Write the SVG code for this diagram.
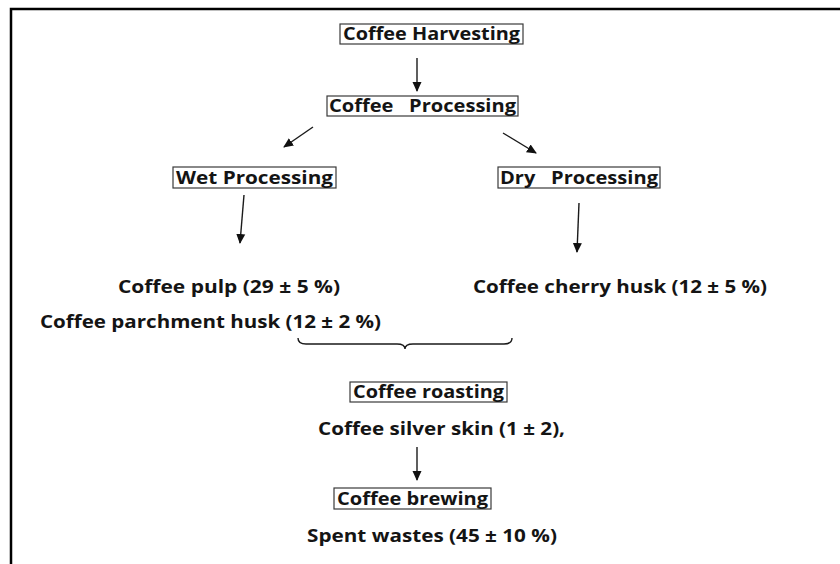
<svg xmlns="http://www.w3.org/2000/svg" width="840" height="564" viewBox="0 0 840 564">
  <style>
    .t { font-family: "Open Sans", "Liberation Sans", sans-serif; font-weight: 700; font-size: 17px; fill: #141414; }
    .box { fill: #ffffff; stroke: #3a3a3a; stroke-width: 1.2; }
    .conn { stroke: #1a1a1a; stroke-width: 1.4; fill: none; }
    .frame { stroke: #000000; stroke-width: 2.5; fill: none; }
  </style>
  <defs>
    <marker id="ah" markerUnits="userSpaceOnUse" markerWidth="10" markerHeight="10" viewBox="0 0 10 10" refX="9" refY="5" orient="auto">
      <path d="M0,0.5 L10,5 L0,9.5 Z" fill="#111111"/>
    </marker>
  </defs>
  <rect width="840" height="564" fill="#ffffff"/>
  <path class="frame" d="M11,564 L11,9 L840,9"/>

  <g id="connectors">
    <line class="conn" x1="417" y1="58" x2="417" y2="91" marker-end="url(#ah)"/>
    <line class="conn" x1="313" y1="127" x2="284" y2="147" marker-end="url(#ah)"/>
    <line class="conn" x1="503" y1="133" x2="536" y2="153" marker-end="url(#ah)"/>
    <line class="conn" x1="244" y1="195" x2="240" y2="243" marker-end="url(#ah)"/>
    <line class="conn" x1="579" y1="203" x2="577" y2="252" marker-end="url(#ah)"/>
    <path class="conn" stroke-width="1.2" d="M298,338 Q298,344 306,344 L397,344 Q405,344 405,349 Q405,344 413,344 L504,344 Q512,344 512,338"/>
    <line class="conn" x1="417" y1="447" x2="417" y2="480" marker-end="url(#ah)"/>
  </g>

  <g id="harvesting">
    <rect class="box" x="340" y="24" width="183" height="20"/>
    <text class="t" x="343" y="40" textLength="177" lengthAdjust="spacingAndGlyphs">Coffee Harvesting</text>
  </g>
  <g id="processing">
    <rect class="box" x="327" y="96" width="191" height="20"/>
    <text class="t" x="329" y="112" textLength="187" lengthAdjust="spacingAndGlyphs" xml:space="preserve">Coffee   Processing</text>
  </g>
  <g id="wet">
    <rect class="box" x="173" y="167" width="163" height="21"/>
    <text class="t" x="176" y="183.5" textLength="157" lengthAdjust="spacingAndGlyphs">Wet Processing</text>
  </g>
  <g id="dry">
    <rect class="box" x="498" y="167" width="162" height="21"/>
    <text class="t" x="500" y="183.5" textLength="158" lengthAdjust="spacingAndGlyphs" xml:space="preserve">Dry   Processing</text>
  </g>
  <g id="pulp">
    <text class="t" x="118" y="292.5" textLength="222" lengthAdjust="spacingAndGlyphs">Coffee pulp (29 ± 5 %)</text>
  </g>
  <g id="cherry">
    <text class="t" x="473" y="292.5" textLength="294" lengthAdjust="spacingAndGlyphs">Coffee cherry husk (12 ± 5 %)</text>
  </g>
  <g id="parchment">
    <text class="t" x="40" y="327.5" textLength="341" lengthAdjust="spacingAndGlyphs">Coffee parchment husk (12 ± 2 %)</text>
  </g>
  <g id="roasting">
    <rect class="box" x="350" y="382" width="157" height="20"/>
    <text class="t" x="353" y="398" textLength="151" lengthAdjust="spacingAndGlyphs">Coffee roasting</text>
  </g>
  <g id="silverskin">
    <text class="t" x="318" y="434.5" textLength="247" lengthAdjust="spacingAndGlyphs">Coffee silver skin (1 ± 2),</text>
  </g>
  <g id="brewing">
    <rect class="box" x="334" y="488" width="157" height="21"/>
    <text class="t" x="337" y="504.5" textLength="151" lengthAdjust="spacingAndGlyphs">Coffee brewing</text>
  </g>
  <g id="spent">
    <text class="t" x="307" y="542" textLength="250" lengthAdjust="spacingAndGlyphs">Spent wastes (45 ± 10 %)</text>
  </g>
</svg>
